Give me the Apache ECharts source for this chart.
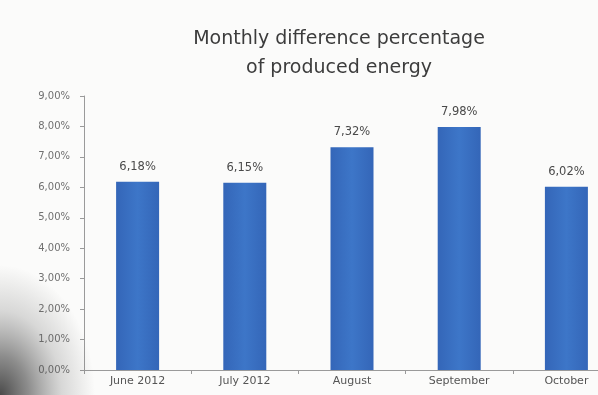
<!DOCTYPE html>
<html>
<head>
<meta charset="utf-8">
<script src="https://cdn.jsdelivr.net/npm/echarts@6/dist/echarts.min.js"></script>
<style>
  html, body { margin: 0; padding: 0; background: #fbfbfa; overflow: hidden; }
  #chart { width: 620px; height: 395px; }
</style>
</head>
<body>
<div id="chart"></div>
<script>
// Monthly difference percentage of produced energy
const months = ['June 2012', 'July 2012', 'August', 'September', 'October'];
const diffPercent = [6.18, 6.15, 7.32, 7.98, 6.02];
const yTicks = [0, 1, 2, 3, 4, 5, 6, 7, 8, 9];

const fmtPct = v => v.toFixed(2).replace('.', ',') + '%';

const chart = echarts.init(document.getElementById('chart'));
chart.setOption({
  backgroundColor: '#fbfbfa',
  animation: false,
  title: {
    text: 'Monthly difference percentage\nof produced energy',
    left: 334,
    top: 20,
    textAlign: 'center',
    textStyle: {
      fontFamily: 'DejaVu Sans',
      fontSize: 19,
      fontWeight: 'normal',
      color: '#3c3c3c',
      lineHeight: 29
    }
  },
  grid: { left: 84, top: 96, right: 0, height: 274 },
  xAxis: {
    type: 'category',
    data: months,
    axisLine: { lineStyle: { color: '#9a9a9a' } },
    axisTick: { show: true, length: 4, lineStyle: { color: '#9a9a9a' } },
    axisLabel: { color: '#555', fontFamily: 'DejaVu Sans', fontSize: 11, margin: 6 }
  },
  yAxis: {
    type: 'value',
    min: yTicks[0],
    max: yTicks[yTicks.length - 1],
    interval: 1,
    axisLine: { show: true, lineStyle: { color: '#9a9a9a' } },
    axisTick: { show: true, length: 4, lineStyle: { color: '#9a9a9a' } },
    splitLine: { show: false },
    axisLabel: {
      color: '#707070',
      fontFamily: 'DejaVu Sans',
      fontSize: 10,
      margin: 14,
      formatter: v => fmtPct(v)
    }
  },
  series: [{
    type: 'bar',
    data: diffPercent,
    barWidth: 43,
    itemStyle: {
      color: new echarts.graphic.LinearGradient(0, 0, 1, 0, [
        { offset: 0, color: '#3466b8' },
        { offset: 0.5, color: '#3d76c8' },
        { offset: 1, color: '#3466b8' }
      ])
    },
    label: {
      show: true,
      position: 'top',
      distance: 9,
      color: '#4a4a4a',
      fontFamily: 'DejaVu Sans',
      fontSize: 11.5,
      formatter: p => fmtPct(p.value)
    }
  }],
  graphic: [{
    // soft shadow over the lower-left corner (elliptical via scaling)
    type: 'rect',
    x: 0,
    y: 395,
    scaleX: 0.95,
    scaleY: 1.3,
    shape: { x: 0, y: -100, width: 100, height: 100 },
    silent: true,
    z: 100,
    style: {
      fill: new echarts.graphic.RadialGradient(0, 1, 1, [
        { offset: 0, color: 'rgba(30,30,30,0.8)' },
        { offset: 0.3, color: 'rgba(50,50,50,0.55)' },
        { offset: 0.65, color: 'rgba(90,90,90,0.22)' },
        { offset: 1, color: 'rgba(90,90,90,0)' }
      ])
    }
  }]
});
</script>
</body>
</html>
